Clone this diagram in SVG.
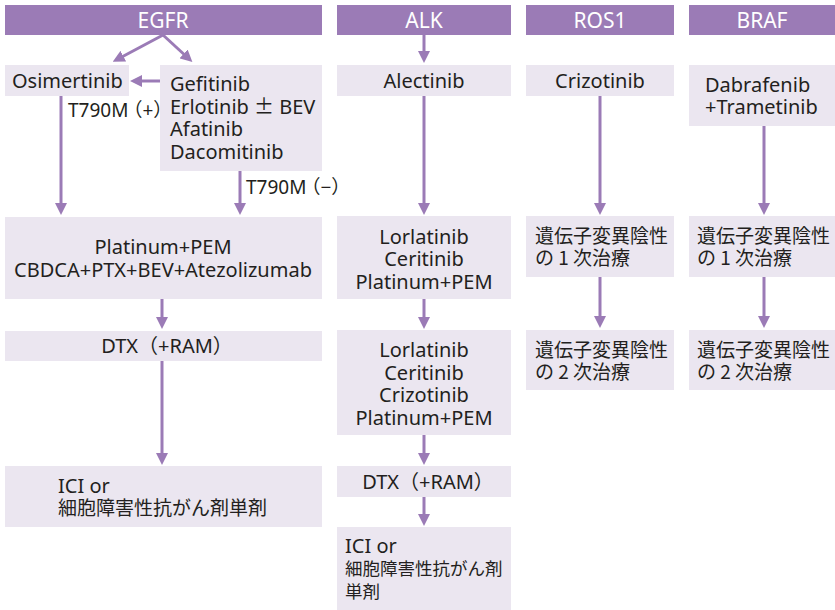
<svg xmlns="http://www.w3.org/2000/svg" width="835" height="610" viewBox="0 0 835 610">
<style>
.hd{fill:#9b7bb6}
.bx{fill:#ebe6f0}
.ht{fill:#ffffff;font-family:"Noto Sans","Noto Sans CJK JP",sans-serif;font-size:21px;text-anchor:middle}
.t{fill:#231f20;font-family:"Noto Sans","Noto Sans CJK JP",sans-serif;font-size:20px}
.j{fill:#231f20;font-family:"Noto Sans CJK JP","Noto Sans",sans-serif;font-size:19px}
.js{fill:#231f20;font-family:"Noto Sans CJK JP","Noto Sans",sans-serif;font-size:17.5px}
.c{text-anchor:middle}
.lb{fill:#231f20;font-family:"Noto Sans","Noto Sans CJK JP",sans-serif;font-size:19px}
.ln{stroke:#9b7bb6;stroke-width:3;fill:none;marker-end:url(#ah)}
</style>
<defs>
<marker id="ah" viewBox="0 0 12 12" refX="6" refY="6" markerWidth="12" markerHeight="12" markerUnits="userSpaceOnUse" orient="auto">
<path d="M0,0 L12,6 L0,12 z" fill="#9b7bb6"/>
</marker>
</defs>
<rect width="835" height="610" fill="#ffffff"/>

<g id="hdr-egfr"><rect class="hd" x="5" y="5" width="317" height="30"/><text class="ht" x="163" y="27.5">EGFR</text></g>
<g id="hdr-alk"><rect class="hd" x="337" y="5" width="174" height="30"/><text class="ht" x="424" y="27.5">ALK</text></g>
<g id="hdr-ros1"><rect class="hd" x="526" y="5" width="148" height="30"/><text class="ht" x="600" y="27.5">ROS1</text></g>
<g id="hdr-braf"><rect class="hd" x="689" y="5" width="146" height="30"/><text class="ht" x="762" y="27.5">BRAF</text></g>

<g id="osimertinib"><rect class="bx" x="5" y="65" width="124" height="31"/><text class="t" x="12" y="88">Osimertinib</text></g>
<g id="gefitinib"><rect class="bx" x="160" y="65" width="162" height="106"/>
<text class="t" x="170" y="91">Gefitinib</text>
<text class="t" x="170" y="114">Erlotinib <tspan font-family="Noto Sans CJK JP">±</tspan> BEV</text>
<text class="t" x="170" y="136">Afatinib</text>
<text class="t" x="170" y="159">Dacomitinib</text></g>
<g id="egfr-chemo"><rect class="bx" x="5" y="217" width="317" height="82"/>
<text class="t c" x="163" y="254">Platinum+PEM</text>
<text class="t c" x="163" y="277">CBDCA+PTX+BEV+Atezolizumab</text></g>
<g id="egfr-dtx"><rect class="bx" x="5" y="331" width="317" height="30"/><text class="t c" x="167" y="353">DTX（+RAM）</text></g>
<g id="egfr-ici"><rect class="bx" x="5" y="466" width="317" height="61"/>
<text class="t" x="58" y="493">ICI or</text>
<text class="j" x="58" y="515">細胞障害性抗がん剤単剤</text></g>

<g id="alectinib"><rect class="bx" x="337" y="65" width="174" height="31"/><text class="t c" x="424" y="88">Alectinib</text></g>
<g id="alk-2"><rect class="bx" x="337" y="216" width="174" height="83"/>
<text class="t c" x="424" y="244">Lorlatinib</text>
<text class="t c" x="424" y="266">Ceritinib</text>
<text class="t c" x="424" y="289">Platinum+PEM</text></g>
<g id="alk-3"><rect class="bx" x="337" y="330" width="174" height="105"/>
<text class="t c" x="424" y="357">Lorlatinib</text>
<text class="t c" x="424" y="380">Ceritinib</text>
<text class="t c" x="424" y="402">Crizotinib</text>
<text class="t c" x="424" y="425">Platinum+PEM</text></g>
<g id="alk-dtx"><rect class="bx" x="337" y="466" width="174" height="31"/><text class="t c" x="428" y="489">DTX（+RAM）</text></g>
<g id="alk-ici"><rect class="bx" x="337" y="527" width="174" height="83"/>
<text class="t" x="345" y="553">ICI or</text>
<text class="js" x="345" y="575">細胞障害性抗がん剤</text>
<text class="js" x="345" y="598">単剤</text></g>

<g id="crizotinib"><rect class="bx" x="526" y="65" width="148" height="31"/><text class="t c" x="600" y="88">Crizotinib</text></g>
<g id="ros1-1"><rect class="bx" x="526" y="216" width="148" height="61"/>
<text class="j" x="535" y="243">遺伝子変異陰性</text>
<text class="j" x="535" y="265">の 1 次治療</text></g>
<g id="ros1-2"><rect class="bx" x="526" y="330" width="148" height="60"/>
<text class="j" x="535" y="357">遺伝子変異陰性</text>
<text class="j" x="535" y="379">の 2 次治療</text></g>

<g id="dabrafenib"><rect class="bx" x="689" y="65" width="146" height="61"/>
<text class="t" x="705" y="92">Dabrafenib</text>
<text class="t" x="705" y="114">+Trametinib</text></g>
<g id="braf-1"><rect class="bx" x="689" y="216" width="146" height="61"/>
<text class="j" x="697" y="243">遺伝子変異陰性</text>
<text class="j" x="697" y="265">の 1 次治療</text></g>
<g id="braf-2"><rect class="bx" x="689" y="330" width="146" height="60"/>
<text class="j" x="697" y="357">遺伝子変異陰性</text>
<text class="j" x="697" y="379">の 2 次治療</text></g>

<g id="connectors">
<line class="ln" x1="163" y1="35" x2="118" y2="59"/>
<line class="ln" x1="163" y1="35" x2="188" y2="58"/>
<line class="ln" x1="160" y1="81" x2="136" y2="81"/>
<line class="ln" x1="61" y1="96" x2="61" y2="209"/>
<line class="ln" x1="240" y1="171" x2="240" y2="209"/>
<line class="ln" x1="162" y1="299" x2="162" y2="323"/>
<line class="ln" x1="162" y1="361" x2="162" y2="459"/>
<line class="ln" x1="424" y1="35" x2="424" y2="57"/>
<line class="ln" x1="424" y1="96" x2="424" y2="209"/>
<line class="ln" x1="424" y1="299" x2="424" y2="323"/>
<line class="ln" x1="424" y1="435" x2="424" y2="459"/>
<line class="ln" x1="424" y1="497" x2="424" y2="520"/>
<line class="ln" x1="600" y1="96" x2="600" y2="209"/>
<line class="ln" x1="600" y1="277" x2="600" y2="322"/>
<line class="ln" x1="764" y1="126" x2="764" y2="209"/>
<line class="ln" x1="764" y1="277" x2="764" y2="322"/>
<text class="lb" x="68" y="117">T790M<tspan dx="-5">（+）</tspan></text>
<text class="lb" x="246" y="194">T790M<tspan dx="-5">（−）</tspan></text>
</g>
</svg>
